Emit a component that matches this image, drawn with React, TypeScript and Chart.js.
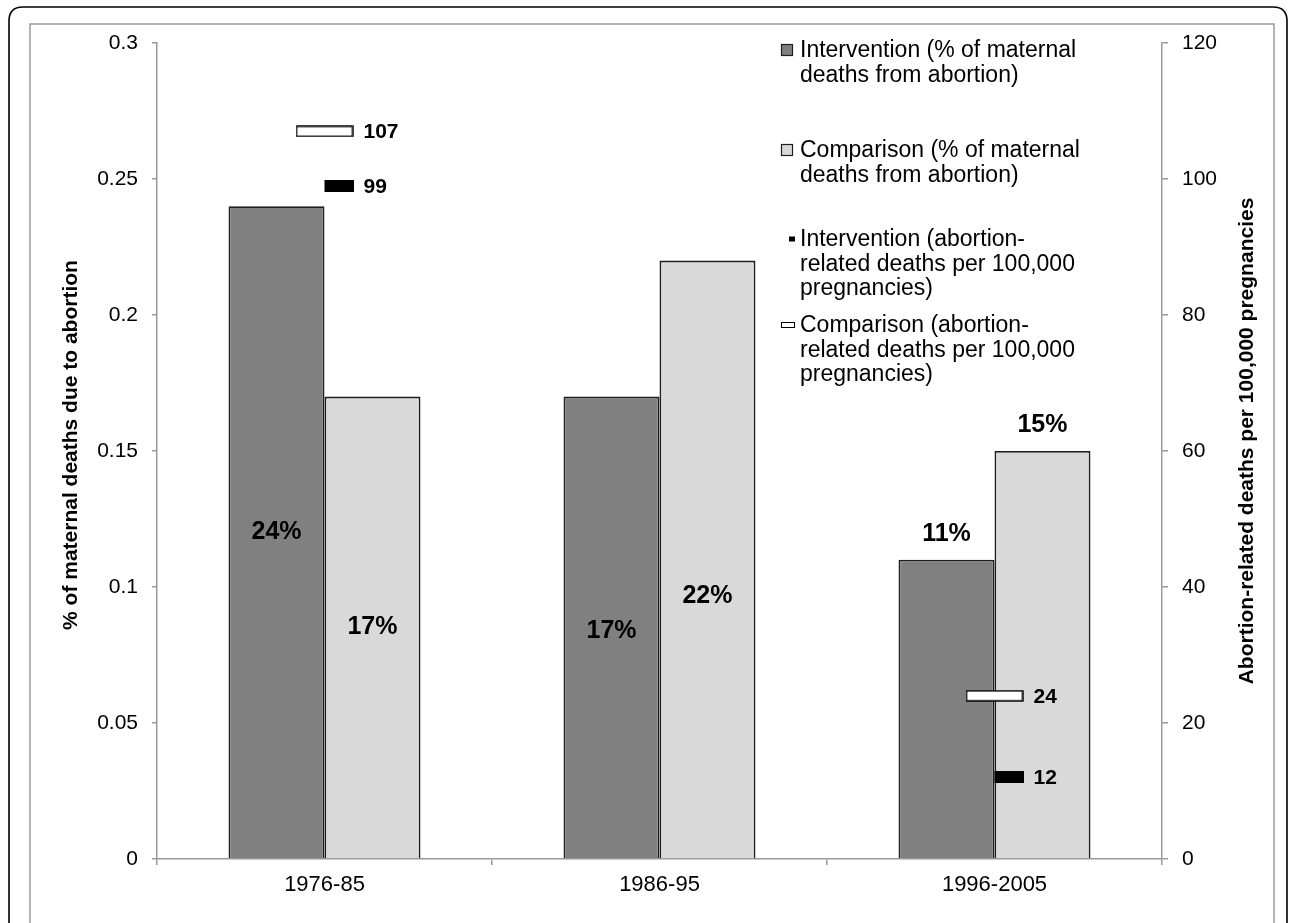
import React, { useEffect, useRef } from 'react';
import { Chart, registerables } from 'chart.js';

Chart.register(...registerables);

// ---------- data ----------
const categories = ['1976-85', '1986-95', '1996-2005'];
const interventionPct = [0.24, 0.17, 0.11];
const comparisonPct = [0.17, 0.22, 0.15];
const interventionRate: (number | null)[] = [99, null, 12];
const comparisonRate: (number | null)[] = [107, null, 24];
const interventionPctLabels = ['24%', '17%', '11%'];
const comparisonPctLabels = ['17%', '22%', '15%'];
const leftTickLabels = ['0', '0.05', '0.1', '0.15', '0.2', '0.25', '0.3'];
const rightTickLabels = ['0', '20', '40', '60', '80', '100', '120'];
const legendInterventionPct = ['Intervention (% of maternal', 'deaths from abortion)'];
const legendComparisonPct = ['Comparison (% of maternal', 'deaths from abortion)'];
const legendInterventionRate = ['Intervention (abortion-', 'related deaths per 100,000', 'pregnancies)'];
const legendComparisonRate = ['Comparison (abortion-', 'related deaths per 100,000', 'pregnancies)'];
const leftTitle = '% of maternal deaths due to abortion';
const rightTitle = 'Abortion-related deaths per 100,000 pregnancies';

// ---------- style ----------
const FONT = '"Liberation Sans", Arial, sans-serif';
const AXIS_GREY = '#9a9a9a';
const DARK = '#808080';
const LIGHT = '#d9d9d9';
const BAR_BORDER = '#1e1e1e';
// label placement: 'center' inside bar, 'above' over bar; nudge in px
const interventionPlacement = ['center', 'center', 'above'];
const comparisonPlacement = ['center', 'center', 'above'];
const comparisonNudge = [0, 37, 0];
const interventionNudge = [0, 4, 0];

function makeMarker(kind: 'white' | 'black'): HTMLCanvasElement {
  const c = document.createElement('canvas');
  c.width = 58;
  c.height = 12;
  const g = c.getContext('2d')!;
  if (kind === 'black') {
    g.fillStyle = '#000';
    g.fillRect(29, 0, 29, 12);
  } else {
    g.fillStyle = '#fff';
    g.fillRect(1, 1, 56, 10);
    g.strokeStyle = '#000';
    g.lineWidth = 1.5;
    g.strokeRect(1, 1, 56, 10);
  }
  return c;
}

function roundRectPath(ctx: CanvasRenderingContext2D, x: number, y: number, w: number, h: number, r: number) {
  ctx.beginPath();
  ctx.moveTo(x + r, y);
  ctx.lineTo(x + w - r, y);
  ctx.quadraticCurveTo(x + w, y, x + w, y + r);
  ctx.lineTo(x + w, y + h - r);
  ctx.quadraticCurveTo(x + w, y + h, x + w - r, y + h);
  ctx.lineTo(x + r, y + h);
  ctx.quadraticCurveTo(x, y + h, x, y + h - r);
  ctx.lineTo(x, y + r);
  ctx.quadraticCurveTo(x, y, x + r, y);
  ctx.closePath();
}

const decorPlugin = {
  id: 'decor',
  beforeDraw(chart: any) {
    const ctx: CanvasRenderingContext2D = chart.ctx;
    ctx.save();
    ctx.fillStyle = '#fff';
    ctx.fillRect(0, 0, chart.width, chart.height);
    ctx.strokeStyle = '#000';
    ctx.lineWidth = 1.6;
    roundRectPath(ctx, 9, 7, 1278, 980, 14);
    ctx.stroke();
    ctx.strokeStyle = AXIS_GREY;
    ctx.lineWidth = 1.5;
    ctx.strokeRect(30, 24, 1244, 960);
    ctx.restore();
  },
  afterDatasetsDraw(chart: any) {
    const ctx: CanvasRenderingContext2D = chart.ctx;
    ctx.save();
    ctx.fillStyle = '#000';
    // bar value labels
    ctx.font = `bold 25px ${FONT}`;
    ctx.textAlign = 'center';
    const barSets: [number, string[], string[], number[]][] = [
      [2, interventionPctLabels, interventionPlacement, interventionNudge],
      [3, comparisonPctLabels, comparisonPlacement, comparisonNudge],
    ];
    barSets.forEach(([idx, labels, place, nudge]) => {
      const meta = chart.getDatasetMeta(idx);
      meta.data.forEach((el: any, i: number) => {
        if (place[i] === 'center') {
          ctx.textBaseline = 'middle';
          ctx.fillText(labels[i], el.x, (el.y + el.base) / 2 + nudge[i]);
        } else {
          ctx.textBaseline = 'alphabetic';
          ctx.fillText(labels[i], el.x, el.y - 19 + nudge[i]);
        }
      });
    });
    // marker labels
    ctx.font = `bold 21px ${FONT}`;
    ctx.textAlign = 'left';
    ctx.textBaseline = 'middle';
    [0, 1].forEach((idx) => {
      const meta = chart.getDatasetMeta(idx);
      const vals = chart.data.datasets[idx].data;
      meta.data.forEach((el: any, i: number) => {
        if (vals[i] == null) return;
        ctx.fillText(String(vals[i]), el.x + 39, el.y + 1);
      });
    });
    ctx.restore();
  },
  afterDraw(chart: any) {
    const ctx: CanvasRenderingContext2D = chart.ctx;
    ctx.save();
    // axis titles
    ctx.fillStyle = '#000';
    ctx.font = `bold 21px ${FONT}`;
    ctx.textAlign = 'center';
    ctx.textBaseline = 'middle';
    const midY = (chart.chartArea.top + chart.chartArea.bottom) / 2;
    ctx.save();
    ctx.translate(71, midY - 6);
    ctx.rotate(-Math.PI / 2);
    ctx.fillText(leftTitle, 0, 0);
    ctx.restore();
    ctx.save();
    ctx.translate(1247, midY - 10);
    ctx.rotate(-Math.PI / 2);
    ctx.fillText(rightTitle, 0, 0);
    ctx.restore();

    // legend
    const textX = 800;
    const lh = 24.5;
    const items: { lines: string[]; y: number; draw: (y: number) => void }[] = [
      {
        lines: legendInterventionPct,
        y: 50,
        draw: (y) => {
          ctx.fillStyle = DARK;
          ctx.fillRect(781, y - 6, 12, 12);
          ctx.strokeStyle = BAR_BORDER;
          ctx.lineWidth = 1.2;
          ctx.strokeRect(781.5, y - 5.5, 11, 11);
        },
      },
      {
        lines: legendComparisonPct,
        y: 150,
        draw: (y) => {
          ctx.fillStyle = LIGHT;
          ctx.fillRect(781, y - 6, 12, 12);
          ctx.strokeStyle = BAR_BORDER;
          ctx.lineWidth = 1.2;
          ctx.strokeRect(781.5, y - 5.5, 11, 11);
        },
      },
      {
        lines: legendInterventionRate,
        y: 239,
        draw: (y) => {
          ctx.fillStyle = '#000';
          ctx.fillRect(789, y - 2.5, 6, 5);
        },
      },
      {
        lines: legendComparisonRate,
        y: 325,
        draw: (y) => {
          ctx.fillStyle = '#fff';
          ctx.fillRect(781, y - 2.5, 14, 5);
          ctx.strokeStyle = '#000';
          ctx.lineWidth = 1;
          ctx.strokeRect(781.5, y - 2.5, 13, 5);
        },
      },
    ];
    items.forEach((it) => {
      it.draw(it.y);
      ctx.fillStyle = '#000';
      ctx.font = `23px ${FONT}`;
      ctx.textAlign = 'left';
      ctx.textBaseline = 'middle';
      it.lines.forEach((ln, k) => ctx.fillText(ln, textX, it.y + 1 + k * lh));
    });
    ctx.restore();
  },
};

export default function App() {
  const ref = useRef<HTMLCanvasElement | null>(null);
  useEffect(() => {
    if (!ref.current) return;
    const whiteMarker = makeMarker('white');
    const blackMarker = makeMarker('black');
    const chart = new Chart(ref.current, {
      type: 'bar',
      data: {
        labels: categories,
        datasets: [
          {
            type: 'line',
            label: 'Intervention (abortion-related deaths per 100,000 pregnancies)',
            data: interventionRate,
            yAxisID: 'y1',
            showLine: false,
            pointStyle: blackMarker as any,
            pointRadius: 6,
            order: 0,
          } as any,
          {
            type: 'line',
            label: 'Comparison (abortion-related deaths per 100,000 pregnancies)',
            data: comparisonRate,
            yAxisID: 'y1',
            showLine: false,
            pointStyle: whiteMarker as any,
            pointRadius: 6,
            order: 0,
          } as any,
          {
            type: 'bar',
            label: 'Intervention (% of maternal deaths from abortion)',
            data: interventionPct,
            yAxisID: 'y',
            backgroundColor: DARK,
            borderColor: BAR_BORDER,
            borderWidth: 1.8,
            categoryPercentage: 0.573,
            barPercentage: 1,
            order: 1,
          },
          {
            type: 'bar',
            label: 'Comparison (% of maternal deaths from abortion)',
            data: comparisonPct,
            yAxisID: 'y',
            backgroundColor: LIGHT,
            borderColor: BAR_BORDER,
            borderWidth: 1.8,
            categoryPercentage: 0.573,
            barPercentage: 1,
            order: 1,
          },
        ],
      },
      options: {
        responsive: false,
        animation: false,
        devicePixelRatio: 1,
        layout: { padding: { top: 43, left: 0, right: 0, bottom: 0 } },
        plugins: { legend: { display: false }, tooltip: { enabled: false } },
        scales: {
          x: {
            grid: {
              display: true,
              drawOnChartArea: false,
              drawTicks: true,
              offset: true,
              tickLength: 6,
              color: AXIS_GREY,
              lineWidth: 1.5,
            },
            border: { display: true, color: AXIS_GREY, width: 1.5 },
            ticks: { color: '#000', font: { family: FONT, size: 22 }, padding: 7 },
            afterFit: (s: any) => {
              s.height = 64;
            },
          },
          y: {
            position: 'left',
            min: 0,
            max: 0.3,
            ticks: {
              stepSize: 0.05,
              color: '#000',
              font: { family: FONT, size: 21 },
              padding: 14,
              callback: (_v: any, i: number) => leftTickLabels[i],
            },
            grid: { drawOnChartArea: false, tickLength: 5, color: AXIS_GREY, lineWidth: 1.5 },
            border: { display: true, color: AXIS_GREY, width: 1.5 },
            afterFit: (s: any) => {
              s.width = 157;
            },
          },
          y1: {
            position: 'right',
            min: 0,
            max: 120,
            ticks: {
              stepSize: 20,
              color: '#000',
              font: { family: FONT, size: 21 },
              padding: 14,
              callback: (_v: any, i: number) => rightTickLabels[i],
            },
            grid: { drawOnChartArea: false, tickLength: 6, color: AXIS_GREY, lineWidth: 1.5 },
            border: { display: true, color: AXIS_GREY, width: 1.5 },
            afterFit: (s: any) => {
              s.width = 128;
            },
          },
        },
      },
      plugins: [decorPlugin],
    });
    return () => chart.destroy();
  }, []);
  return (
    <div style={{ position: 'absolute', left: 0, top: 0, width: 1290, height: 923, overflow: 'hidden' }}>
      <canvas ref={ref} width={1290} height={923} style={{ display: 'block' }} />
    </div>
  );
}
